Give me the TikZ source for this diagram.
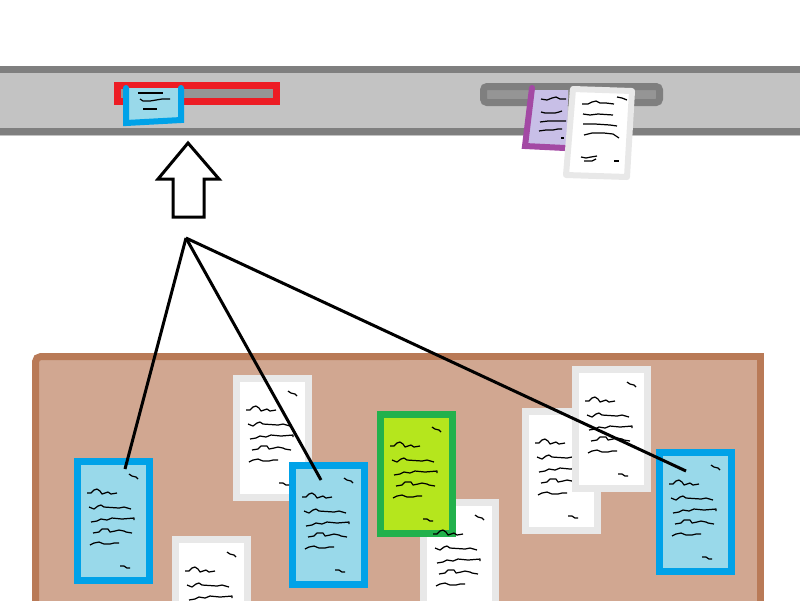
\documentclass[tikz,border=0pt]{standalone}
\usepackage{tikz}
\usetikzlibrary{calc}

\definecolor{bandgray}{HTML}{C3C3C3}
\definecolor{railgray}{HTML}{7F7F7F}
\definecolor{slotgray}{HTML}{959595}
\definecolor{slotred}{HTML}{ED1C24}
\definecolor{noteblue}{HTML}{00A2E8}
\definecolor{notebluefill}{HTML}{99D9EA}
\definecolor{notegreen}{HTML}{22B14C}
\definecolor{notegreenfill}{HTML}{B5E61D}
\definecolor{notepurple}{HTML}{A349A4}
\definecolor{notepurplefill}{HTML}{C8BFE7}
\definecolor{notegray}{HTML}{E8E8E8}
\definecolor{corkbrown}{HTML}{B97A57}
\definecolor{corkfill}{HTML}{D1A791}

\begin{document}
\begin{tikzpicture}[x=0.02cm,y=-0.02cm,
    note/.style={draw,line width=0.14cm,minimum width=1.44cm,minimum height=2.38cm,inner sep=0pt},
    bluenote/.style={note,draw=noteblue,fill=notebluefill},
    whitenote/.style={note,draw=notegray,fill=white},
    greennote/.style={note,draw=notegreen,fill=notegreenfill},
    ink/.style={black,line width=0.7pt,line join=round},
    scrawl/.pic={
        \draw[ink] (55,16) -- (58,18) -- (62,19) -- (64,21);
        \draw[ink] (13,35) -- (17,35) -- (20,32) -- (23,31) -- (26,33) -- (28,36) -- (31,35) -- (34,34) -- (37,36) -- (43,35);
        \draw[ink] (15,49) -- (20,51) -- (24,48) -- (27,47) -- (30,49) -- (45,50) -- (50,49) -- (57,51);
        \draw[ink] (17,64) -- (23,63) -- (27,61) -- (33,62) -- (38,60) -- (48,61) -- (60,60) -- (60,62);
        \draw[ink] (19,75) -- (25,74) -- (28,71) -- (34,71) -- (36,74) -- (41,73) -- (45,72) -- (50,73) -- (52,74) -- (58,75);
        \draw[ink] (16,87) -- (20,85) -- (25,84) -- (30,86) -- (36,86) -- (40,85) -- (45,85);
        \draw[ink] (46,108) -- (50,108) -- (53,110) -- (56,110);
    }]

    \useasboundingbox (0,0) rectangle (800,600);
    \clip (0,0) rectangle (800,600);

    % Rail
    \fill[bandgray] (0,66) rectangle (800,136);
    \fill[railgray] (0,66) rectangle (800,73);
    \fill[railgray] (0,128) rectangle (800,135);

    % Slots
    \draw[slotred,line width=0.14cm,fill=slotgray] (117.5,85.5) rectangle (276.5,101.5);
    \draw[railgray,line width=0.14cm,fill=slotgray,rounded corners=2pt] (483.5,86.5) rectangle (659.5,102.5);

    % Note leaving the red slot
    \fill[notebluefill] (126,88) -- (181,88) -- (181,121) -- (126,123) -- cycle;
    \draw[noteblue,line width=0.12cm,line cap=round] (126,88) -- (126,123) -- (181,120) -- (181,88);
    \draw[ink] (138,93) -- (163,93);
    \draw[ink] (140,99) -- (143,101) -- (150,101) -- (156,100) -- (162,99) -- (170,99);
    \draw[ink] (143,109) -- (157,109);

    % Notes in the grey slot
    \fill[notepurplefill] (533,90) -- (568,90) -- (567,148) -- (526,147) -- cycle;
    \draw[notepurple,line width=0.12cm,line cap=round] (532,88) -- (525,146) -- (565,148);
    \draw[ink] (541,99) -- (547,100) -- (552,98) -- (556,97) -- (560,99) -- (566,99);
    \draw[ink] (541,112) -- (545,113) -- (555,113) -- (559,112) -- (562,111);
    \draw[ink] (540,122) -- (548,121) -- (556,121) -- (566,121);
    \draw[ink] (539,131) -- (546,130) -- (553,130) -- (558,129) -- (562,129);
    \draw[ink] (561,138) -- (564,138);

    \draw[notegray,line width=0.12cm,fill=white,line join=round] (573,89) -- (632,91) -- (627,177) -- (566,175) -- cycle;
    \draw[ink] (617,97) -- (622,98) -- (627,100);
    \draw[ink] (582,104) -- (588,104) -- (592,102) -- (596,101) -- (600,103) -- (606,103) -- (614,104);
    \draw[ink] (583,114) -- (590,115) -- (598,114) -- (613,115);
    \draw[ink] (583,124) -- (595,124) -- (610,125) -- (617,126);
    \draw[ink] (584,135) -- (588,134) -- (592,133) -- (604,133) -- (613,134) -- (619,138);
    \draw[ink] (581,157) -- (586,158) -- (591,157) -- (597,156);
    \draw[ink] (584,161) -- (592,161) -- (596,159);
    \draw[ink] (614,161) -- (619,161);

    % Arrow
    \draw[line width=0.06cm,fill=white,line join=miter]
        (188,143) -- (219,179) -- (204,179) -- (204,217) -- (173,217) -- (173,179) -- (158,179) -- cycle;

    % Corkboard
    \fill[corkfill] (35.5,356) rectangle (760,620);
    \draw[corkbrown,line width=0.14cm,rounded corners=3pt] (35.5,620) -- (35.5,356.5) -- (400,356.5);
    \draw[corkbrown,line width=0.14cm] (399,356) -- (760,356) -- (760,620);

    % Notes on the board
    \node[whitenote] (noteB) at (272.5,438) {};
    \node[whitenote] (noteC) at (211.5,599) {};
    \node[bluenote]  (noteA) at (113.5,521) {};
    \node[bluenote]  (noteD) at (328.5,525) {};
    \node[whitenote] (noteF) at (459.5,562) {};
    \node[greennote] (noteE) at (416.5,474) {};
    \node[whitenote] (noteG) at (561.5,471) {};
    \foreach \n in {noteB,noteC,noteA,noteD,noteF,noteE,noteG} {
        \pic at (\n.north west) {scrawl};
    }
    \node[whitenote] (noteH) at (611.5,429) {};
    \pic at (noteH.north west) {scrawl};
    \node[bluenote]  (noteI) at (695.5,512) {};
    \pic at (noteI.north west) {scrawl};

    % Links to the selected notes
    \coordinate (hub) at (186,238);
    \coordinate (pinA) at (125,469);
    \coordinate (pinD) at (321,480);
    \coordinate (pinI) at (686,471);
    \foreach \p in {pinA,pinD,pinI} {
        \draw[line width=0.06cm] (hub) -- (\p);
    }

\end{tikzpicture}
\end{document}
